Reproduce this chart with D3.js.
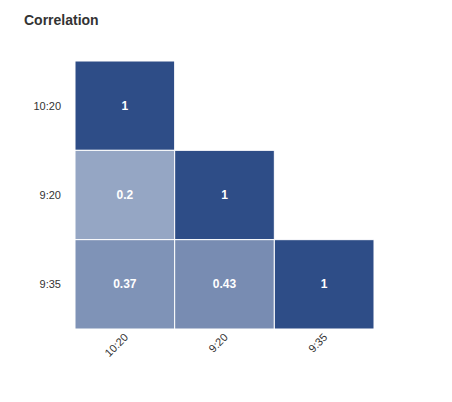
<!DOCTYPE html>
<html><head><meta charset="utf-8">
<script src="https://cdn.jsdelivr.net/npm/d3@7"></script>
<style>body{margin:0;background:#fff;font-family:"Liberation Sans",Arial,sans-serif}</style>
</head><body>
<script>
// heatmap data (lower triangle)
var labels = ["10:20", "9:20", "9:35"];
var cells = [
    {x: "10:20", y: "10:20", v: 1},
    {x: "10:20", y: "9:20", v: 0.2},
    {x: "9:20", y: "9:20", v: 1},
    {x: "10:20", y: "9:35", v: 0.37},
    {x: "9:20", y: "9:35", v: 0.43},
    {x: "9:35", y: "9:35", v: 1}
];

var svg = d3.select("body").append("svg").attr("width", 452).attr("height", 402);

svg.append("text").attr("x", 24).attr("y", 25)
    .attr("font-size", 14).attr("font-weight", "bold").attr("fill", "#333")
    .text("Correlation");

var x = d3.scaleBand().domain(labels).range([75, 374]);
var y = d3.scaleBand().domain(labels).range([61, 329]);
var color = d3.scaleLinear().domain([0, 1]).range(["#afbcd3", "#2e4d87"]);

svg.selectAll(".cell").data(cells).enter().append("rect")
    .attr("x", function(d){ return x(d.x); })
    .attr("y", function(d){ return y(d.y); })
    .attr("width", x.bandwidth())
    .attr("height", y.bandwidth())
    .attr("fill", function(d){ return color(d.v); })
    .attr("stroke", "#fff").attr("stroke-width", 1);

svg.selectAll(".val").data(cells).enter().append("text")
    .attr("x", function(d){ return x(d.x) + x.bandwidth() / 2; })
    .attr("y", function(d){ return y(d.y) + y.bandwidth() / 2 + 4; })
    .attr("text-anchor", "middle").attr("font-size", 12).attr("font-weight", "bold")
    .attr("fill", "#fff")
    .text(function(d){ return d.v; });

//y labels
svg.selectAll(".ylab").data(labels).enter().append("text")
    .attr("x", 61).attr("y", function(d){ return y(d) + y.bandwidth() / 2 + 4; })
    .attr("text-anchor", "end").attr("font-size", 11).attr("fill", "#333")
    .text(function(d){ return d; });

//x labels rotated
svg.selectAll(".xlab").data(labels).enter().append("text")
    .attr("transform", function(d){ return "translate(" + (x(d) + x.bandwidth() / 2 + 4) + ",338) rotate(-45)"; })
    .attr("text-anchor", "end").attr("font-size", 11).attr("fill", "#333")
    .text(function(d){ return d; });
</script>
</body></html>
